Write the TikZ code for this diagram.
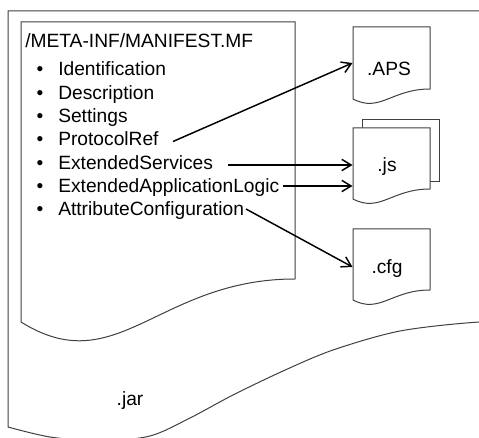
\documentclass[tikz,border=0pt]{standalone}
\usepackage{fontspec}
\setmainfont{Liberation Sans}
\usetikzlibrary{arrows.meta}
\begin{document}
\begin{tikzpicture}[x=0.75pt,y=-0.75pt,
  doc/.style={draw=black!75, line width=0.75pt, fill=white},
  lbl/.style={font=\fontsize{14.4}{17}\selectfont, inner sep=0pt},
  item/.style={lbl, anchor=base west},
  bul/.style={lbl, anchor=base},
  conn/.style={line width=1.1pt, -{Straight Barb[length=7pt,width=8.5pt]}},
]
\useasboundingbox (0,0) rectangle (479,438);
\fill[white] (0,0) rectangle (479,438);
\begin{scope}
\clip (0,0) rectangle (479,438);
% outer .jar document
\draw[doc] (560,320) -- (560,11) -- (8,11) -- (8,427) -- plot[smooth, tension=0.5] coordinates
  {(8,427) (50,437) (100,441) (150,436) (190,418) (233,395) (283,371) (333,350) (400,331) (479,322) (560,320)};
\end{scope}
% manifest document
\draw[doc] (21,22) -- (295,22) -- (295,279) .. controls (158,279) and (117,382) .. (21,322) -- cycle;
% .APS
\draw[doc] (353,27) -- (430,27) -- (430,89) .. controls (391.5,89) and (380,113) .. (353,99) -- cycle;
% .js (two sheets)
\draw[doc] (362,120) rectangle (439,182);
\draw[doc] (353,128) -- (430,128) -- (430,189) .. controls (391.5,189) and (380,213) .. (353,199) -- cycle;
% .cfg
\draw[doc] (353,229) -- (430,229) -- (430,290) .. controls (391.5,290) and (380,314) .. (353,300) -- cycle;

% texts
\node[item] (title) at (25,48) {/META-INF/MANIFEST.MF};
\node[bul] (b1) at (40,76) {•};
\node[item] (id) at (58,76) {Identification};
\node[bul] (b2) at (40,99.3) {•};
\node[item] (de) at (58,99.3) {Description};
\node[bul] (b3) at (40,122.6) {•};
\node[item] (se) at (58,122.6) {Settings};
\node[bul] (b4) at (40,146) {•};
\node[item] (pr) at (58,146) {ProtocolRef};
\node[bul] (b5) at (40,169.3) {•};
\node[item] (es) at (58,169.3) {ExtendedServices};
\node[bul] (b6) at (40,192.6) {•};
\node[item] (eal) at (58,192.6) {ExtendedApplicationLogic};
\node[bul] (b7) at (40,216) {•};
\node[item] (ac) at (58,216) {AttributeConfiguration};

\node[bul] (aps) at (389,76) {.APS};
\node[bul] (js) at (387,172) {.js};
\node[bul] (cfg) at (387,274) {.cfg};
\node[bul] (jar) at (130,406) {.jar};

% connector end points
\coordinate (pr-out) at (173,141.5);
\coordinate (es-out) at (228,165);
\coordinate (eal-out) at (283,186);
\coordinate (ac-out) at (246,209);
\coordinate (aps-in) at (352.5,63);
\coordinate (js-in1) at (352.5,165);
\coordinate (js-in2) at (352.5,186);
\coordinate (cfg-in) at (352.5,267);

\draw[conn] (pr-out) -- (aps-in);
\draw[conn] (es-out) -- (js-in1);
\draw[conn] (eal-out) -- (js-in2);
\draw[conn] (ac-out) -- (cfg-in);
\end{tikzpicture}
\end{document}
